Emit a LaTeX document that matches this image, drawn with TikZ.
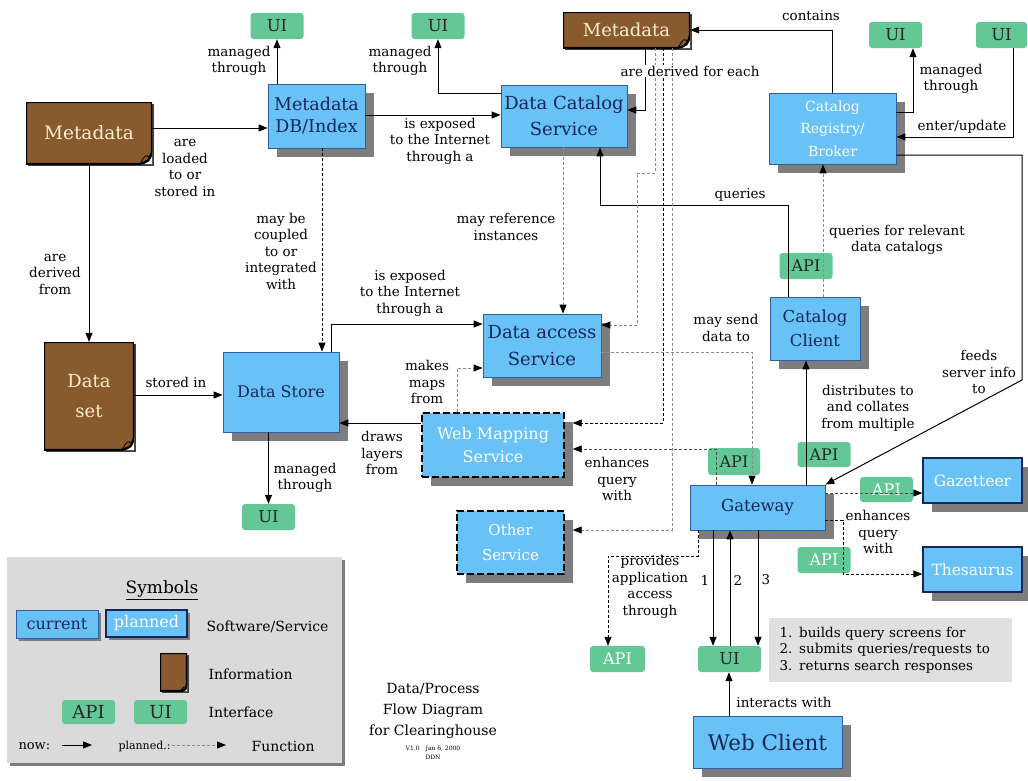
\documentclass[tikz,border=0pt]{standalone}
\usepackage{fontspec}
\setmainfont{DejaVu Serif}
\usetikzlibrary{arrows.meta,calc,shadows}
\definecolor{boxblue}{RGB}{104,194,247}
\definecolor{boxline}{RGB}{45,95,165}
\definecolor{boxtext}{RGB}{22,38,88}
\definecolor{shade}{RGB}{125,125,125}
\definecolor{docbrown}{RGB}{137,90,45}
\definecolor{doctext}{RGB}{250,238,210}
\definecolor{ifgreen}{RGB}{100,200,150}
\definecolor{legendgray}{RGB}{218,218,218}
\definecolor{notegray}{RGB}{224,224,224}
\newcommand{\lblfont}{\fontsize{13.5}{16.5}\selectfont}
\newcommand{\boxfs}[2]{\fontsize{#1}{#2}\selectfont}
\newcommand{\docpaper}[1]{%
	\coordinate (dnw) at (path picture bounding box.north west);
	\coordinate (dse) at (path picture bounding box.south east);
	\fill[white] ($(dse)+(-#1,0pt)$) .. controls ($(dse)+(-0.25*#1,0.25*#1)$) .. ($(dse)+(0pt,#1)$) -- (dse) -- cycle;
	\draw[line width=2.4pt] (dnw) -| ($(dse)+(0pt,#1)$) .. controls ($(dse)+(-0.25*#1,0.25*#1)$) .. ($(dse)+(-#1,0pt)$) -| (dnw);
	\draw[line width=0.8pt] ($(dse)+(-#1,0pt)$) .. controls ($(dse)+(-0.55*#1,0.8*#1)$) .. ($(dse)+(-0.15*#1,0.55*#1)$);}
\tikzset{
	bigshadow/.style={drop shadow={shadow xshift=9pt, shadow yshift=-9pt, fill=shade, opacity=1}},
	smallshadow/.style={drop shadow={shadow xshift=3pt, shadow yshift=-3pt, fill=shade, opacity=1}},
	svcbase/.style={draw=boxline, line width=0.8pt, fill=boxblue, text=boxtext, align=center, inner sep=0pt},
	svc/.style={svcbase, bigshadow},
	svcw/.style={svc, text=white},
	svcp/.style={svc, draw=black, line width=1.4pt, dash pattern=on 7pt off 3pt, text=white},
	doc/.style={fill=docbrown, text=doctext, align=center, inner sep=0pt,
		drop shadow={shadow xshift=2pt, shadow yshift=-2pt, fill=black!75, opacity=1},
		path picture={\docpaper{#1}}},
	doc/.default=12pt,
	ifc/.style={fill=ifgreen, rounded corners=3pt, text=black!85, inner sep=0pt,
		minimum width=53pt, minimum height=26pt, font=\boxfs{16.5}{18}},
	lbl/.style={font=\lblfont, align=center, inner sep=1pt},
	now/.style={-{Triangle[length=9pt,width=7pt]}, line width=1pt},
	plan/.style={-{Triangle[length=9pt,width=7pt,color=black]}, line width=0.9pt, dash pattern=on 3pt off 2pt},
	plang/.style={plan, draw=black!45}
}
\begin{document}
\begin{tikzpicture}[x=1pt,y=-1pt]
	\useasboundingbox (0,0) rectangle (1028,780);
	\node[doc, minimum width=126pt, minimum height=62pt, font=\boxfs{18.5}{22}] (metaleft) at (89,133) {Metadata};
	\node[doc, minimum width=127pt, minimum height=36pt, font=\boxfs{18}{22}] (metatop) at (626.5,30) {Metadata};
	\node[doc, minimum width=90pt, minimum height=108pt, font=\boxfs{18}{30}] (dataset) at (89,396) {Data\\set};
	\node[svc, minimum width=97pt, minimum height=64pt, font=\boxfs{17.5}{22}] (metadb) at (316.5,116) {Metadata\\DB/Index};
	\node[svc, minimum width=126pt, minimum height=62pt, font=\boxfs{18}{26}] (catsvc) at (564,116) {Data Catalog\\Service};
	\node[svcw, minimum width=127pt, minimum height=71pt, font=\boxfs{14}{22.5}] (registry) at (832.5,128.5) {Catalog\\Registry/\\Broker};
	\node[svc, minimum width=118pt, minimum height=63pt, font=\boxfs{18}{27}] (access) at (542,345.5) {Data access\\Service};
	\node[svc, minimum width=116pt, minimum height=80pt, font=\boxfs{16}{20}] (store) at (281,392) {Data Store};
	\node[svcp, minimum width=142pt, minimum height=64pt, font=\boxfs{16}{23}] (mapping) at (493,445) {Web Mapping\\Service};
	\node[svcp, minimum width=107pt, minimum height=63pt, font=\boxfs{15}{25}] (other) at (510.5,542.5) {Other\\Service};
	\node[svc, minimum width=90pt, minimum height=63pt, font=\boxfs{16.5}{24}] (client) at (815,328.5) {Catalog\\Client};
	\node[svc, minimum width=135pt, minimum height=45pt, font=\boxfs{16.5}{20}] (gateway) at (757.5,507.5) {Gateway};
	\node[svcw, draw=boxtext, line width=1.3pt, minimum width=99pt, minimum height=45pt, font=\boxfs{15.5}{20}] (gazetteer) at (972.5,480.5) {Gazetteer};
	\node[svcw, draw=boxtext, line width=1.3pt, minimum width=99pt, minimum height=45pt, font=\boxfs{15.5}{20}] (thesaurus) at (972.5,569.5) {Thesaurus};
	\node[svc, minimum width=149pt, minimum height=52pt, font=\boxfs{21.5}{26}] (webclient) at (767.5,742) {Web Client};
	\node[ifc] (uimeta) at (277,26) {UI};
	\node[ifc] (uicat) at (438,26) {UI};
	\node[ifc] (uireg) at (895.5,35) {UI};
	\node[ifc, minimum width=51pt] (uientry) at (1001.5,35) {UI};
	\node[ifc] (uistore) at (268.5,517) {UI};
	\node[ifc, minimum width=63pt] (uiweb) at (729.5,659) {UI};
	\node[ifc, font=\boxfs{16}{18}] (apiclient) at (806,266) {API};
	\node[ifc, font=\boxfs{16}{18}, minimum width=52pt, minimum height=27pt] (apigate) at (734,461.5) {API};
	\node[ifc, font=\boxfs{16}{18}, minimum height=25pt] (apidist) at (824,454.5) {API};
	\node[ifc, font=\boxfs{16}{18}, text=white, minimum height=25pt] (apigaz) at (886.5,489.5) {API};
	\node[ifc, font=\boxfs{16}{18}, text=white] (apithes) at (824,560) {API};
	\node[ifc, font=\boxfs{16}{18}, text=white, minimum width=55pt] (apiapp) at (617.5,659) {API};
	\node[fill=notegray, minimum width=243pt, minimum height=64pt, text width=222pt, align=left, inner sep=0pt, font=\lblfont] (note) at (890.5,650) {1. builds query screens for\\2. submits queries/requests to\\3. returns search responses};
	\path[now]
		(metaleft.east |- 0,128) edge (metadb.west |- 0,128)
		(metadb.north -| uimeta.south) edge (uimeta.south)
		(metadb.east |- 0,115) edge (catsvc.west |- 0,115)
		(metaleft.south) edge (dataset.north)
		(dataset.east |- 0,395) edge (store.west |- 0,395)
		(store.south -| uistore.north) edge (uistore.north)
		(mapping.west |- 0,423) edge (store.east |- 0,423)
		(gateway.north -| 806,0) edge (client.south -| 806,0)
		(gateway.south -| 713,0) edge (uiweb.north -| 713,0)
		(uiweb.north -| 730,0) edge (gateway.south -| 730,0)
		(gateway.south -| 758,0) edge (uiweb.north -| 758,0)
		(webclient.north -| 729,0) edge (uiweb.south -| 729,0)
	;
	\draw[now] (catsvc.west |- 0,93) -| (uicat.south);
	\draw[now] (metatop.south -| 645,0) |- (catsvc.east |- 0,110);
	\draw[now] (registry.north) |- (metatop.east);
	\draw[now] (registry.east |- 0,112) -| (uireg.south -| 913,0);
	\draw[now] (uientry.south -| 1013,0) |- (registry.east |- 0,137);
	\draw[now] (registry.east |- 0,155) -| (1022,380) -- (gateway.north east);
	\draw[now] (client.north -| 788,0) |- (600,205) -- (catsvc.south -| 600,0);
	\draw[now] (store.north -| 331,0) |- (access.west |- 0,324);
	\draw[plan] (metadb.south -| 322,0) -- (store.north -| 322,0);
	\draw[plang] (catsvc.south -| 563,0) -- (access.north -| 563,0);
	\draw[plang] (metatop.south -| 655,0) |- (637,173) |- (access.east |- 0,325);
	\draw[plan] (metatop.south -| 663,0) |- ($(mapping.east |- 0,423)+(8,0)$);
	\draw[plang] (metatop.south -| 672,0) |- ($(other.east |- 0,530)+(8,0)$);
	\draw[plang] (client.north -| 823,0) -- (registry.south -| 823,0);
	\draw[plang] (mapping.north -| 457,0) |- (access.west |- 0,368);
	\draw[plang] (access.east |- 0,352) -| (gateway.north -| 752,0);
	\draw[plan, draw=black!70] (gateway.north -| 716,0) |- ($(mapping.east |- 0,449)+(8,0)$);
	\draw[plan] (gateway.south -| 698,0) |- (608,556) -- (apiapp.north -| 608,0);
	\draw[plan, draw=black!70] (gateway.east |- 0,493) -- (gazetteer.west |- 0,493);
	\draw[plan] (gateway.east |- 0,520) -| (843,574) -- (thesaurus.west |- 0,574);
	\node[lbl] (lloaded) at (185,168) {are\\loaded\\to or\\stored in};
	\node[lbl] (lmanmeta) at (239,61) {managed\\through};
	\node[lbl] (lmancat) at (400,61) {managed\\through};
	\node[lbl] (lexpcat) at (440,141) {is exposed\\to the Internet\\through a};
	\node[lbl] (lcontains) at (811,16) {contains};
	\node[lbl] (lmanreg) at (951,79) {managed\\through};
	\node[lbl] (lenter) at (962,127) {enter/update};
	\node[lbl] (lqueries) at (740,195) {queries};
	\node[lbl] (lrelevant) at (897,240) {queries for relevant\\data catalogs};
	\node[lbl] (lreference) at (506,227) {may reference\\instances};
	\node[lbl] (lcoupled) at (281,251) {may be\\coupled\\to or\\integrated\\with};
	\node[lbl] (lderfrom) at (55,274) {are\\derived\\from};
	\node[lbl] (lstored) at (176,382) {stored in};
	\node[lbl] (lmanstore) at (305,478) {managed\\through};
	\node[lbl] (lexpacc) at (410,293) {is exposed\\to the Internet\\through a};
	\node[lbl] (lmaps) at (427,382) {makes\\maps\\from};
	\node[lbl] (llayers) at (382,453) {draws\\layers\\from};
	\node[lbl] (lenhmap) at (617,479) {enhances\\query\\with};
	\node[lbl] (lsend) at (726,328) {may send\\data to};
	\node[lbl] (ldistrib) at (868,408) {distributes to\\and collates\\from multiple};
	\node[lbl] (lfeeds) at (979,372) {feeds\\server info\\to};
	\node[lbl] (lenhthes) at (878,532) {enhances\\query\\with};
	\node[lbl] (lprovides) at (650,587) {provides\\application\\access\\through};
	\node[lbl] (lone) at (705,580) {1};
	\node[lbl] (ltwo) at (738,580) {2};
	\node[lbl] (lthree) at (766,580) {3};
	\node[lbl] (linteracts) at (784,702) {interacts with};
	\node[lbl, fill=white] (lderived) at (690,71) {are derived for each};
	\node[fill=legendgray, minimum width=335pt, minimum height=206pt, inner sep=0pt, smallshadow] (legend) at (174.5,660) {};
	\node[font=\boxfs{17}{20}] (symbols) at (162,590) {\underline{Symbols}};
	\node[svcbase, smallshadow, minimum width=82pt, minimum height=28pt, font=\boxfs{16}{18}] (keycur) at (57,624) {current};
	\node[svcbase, smallshadow, draw=boxtext, line width=1.3pt, text=white, minimum width=81pt, minimum height=27pt, font=\boxfs{16}{18}] (keyplan) at (146.5,623.5) {planned};
	\node[font=\boxfs{14}{16}, anchor=west] (keysvc) at (203,627) {Software/Service};
	\node[doc=6pt, minimum width=27pt, minimum height=38pt] (keydoc) at (173.5,672) {};
	\node[font=\boxfs{14}{16}, anchor=west] (keyinfo) at (205,674) {Information};
	\node[ifc, minimum height=24pt, font=\boxfs{18}{20}] (keyapi) at (88.5,712) {API};
	\node[ifc, minimum height=24pt, font=\boxfs{18}{20}] (keyui) at (160.5,712) {UI};
	\node[font=\boxfs{14}{16}, anchor=west] (keyif) at (205,712) {Interface};
	\node[font=\boxfs{13}{16}, anchor=west] (keynow) at (15,746) {now:};
	\node[font=\boxfs{11}{14}, anchor=west] (keyplanned) at (115,746) {planned.:};
	\node[font=\boxfs{14}{16}, anchor=west] (keyfun) at (248,746) {Function};
	\coordinate (nowA) at (62,745);
	\coordinate (nowB) at (92,745);
	\coordinate (planA) at (172,745);
	\coordinate (planB) at (226,745);
	\draw[now] (nowA) -- (nowB);
	\draw[plang] (planA) -- (planB);
	\node[font=\boxfs{14}{21}, align=center] (title) at (433,711) {Data/Process\\Flow Diagram\\for Clearinghouse};
	\node[font=\boxfs{6}{9}, align=center] (version) at (433,753) {V1.0\quad Jan 6, 2000\\DDN};
\end{tikzpicture}
\end{document}
